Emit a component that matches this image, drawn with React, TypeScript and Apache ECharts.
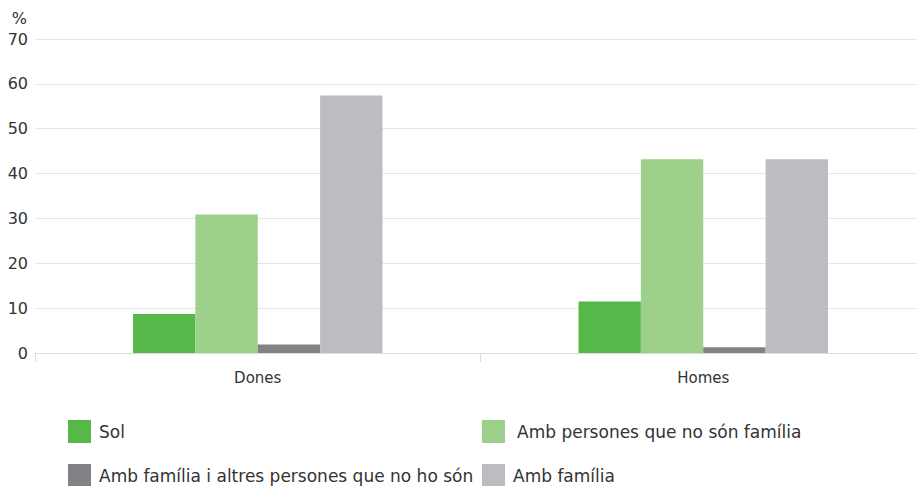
import React, { useEffect, useRef } from "react";
import * as echarts from "echarts";

const categories = ["Dones", "Homes"];
const seriesNames = [
  "Sol",
  "Amb persones que no són família",
  "Amb família i altres persones que no ho són",
  "Amb família",
];
const sol = [8.7, 11.5];
const ambPersones = [30.9, 43.2];
const ambFamiliaAltres = [1.9, 1.3];
const ambFamilia = [57.4, 43.2];
const colors = ["#57b84a", "#9dd08a", "#818186", "#bcbdc1"];
const yTicks = { min: 0, max: 70, interval: 10 };

const FONT = "'DejaVu Sans', 'Open Sans', sans-serif";

export default function App() {
  const ref = useRef<HTMLDivElement>(null);
  useEffect(() => {
    document.body.style.margin = "0";
    const chart = echarts.init(ref.current!, null, { renderer: "svg" });
    const values = [sol, ambPersones, ambFamiliaAltres, ambFamilia];
    const legendPos = [
      { left: 68, top: 420, pad: 3 },
      { left: 482, top: 420, pad: 7 },
      { left: 68, top: 464, pad: 3 },
      { left: 482, top: 464, pad: 3 },
    ];
    chart.setOption({
      animation: false,
      textStyle: { fontFamily: FONT },
      grid: { left: 35, right: 0, top: 39, bottom: 133, containLabel: false },
      legend: seriesNames.map((n, i) => ({
        data: [n],
        left: legendPos[i].left,
        top: legendPos[i].top,
        itemWidth: 23,
        itemHeight: 23,
        icon: "rect",
        padding: 0,
        textStyle: {
          fontSize: 17,
          color: "#333",
          fontFamily: FONT,
          padding: [0, 0, 0, legendPos[i].pad],
        },
      })),
      xAxis: {
        type: "category",
        data: categories,
        axisLine: { lineStyle: { color: "#dddddd" } },
        axisTick: { show: true, length: 9, lineStyle: { color: "#dddddd" } },
        axisLabel: { color: "#333", fontSize: 15, margin: 17, fontFamily: FONT },
      },
      yAxis: {
        type: "value",
        min: yTicks.min,
        max: yTicks.max,
        interval: yTicks.interval,
        name: "%",
        nameLocation: "end",
        nameGap: 13,
        nameTextStyle: {
          color: "#333",
          fontSize: 16,
          align: "right",
          padding: [0, 8, 0, 0],
          fontFamily: FONT,
        },
        axisLine: { show: false },
        axisTick: { show: false },
        axisLabel: { color: "#333", fontSize: 16, margin: 7, fontFamily: FONT },
        splitLine: { lineStyle: { color: "#e6e6e6", width: 1 } },
      },
      series: seriesNames.map((n, i) => ({
        name: n,
        type: "bar",
        data: values[i],
        barGap: "0%",
        barCategoryGap: "44%",
        itemStyle: { color: colors[i] },
      })),
    });
    return () => chart.dispose();
  }, []);
  return (
    <div style={{ width: 917, height: 486, overflow: "hidden" }}>
      <div ref={ref} style={{ width: 926, height: 486 }} />
    </div>
  );
}
